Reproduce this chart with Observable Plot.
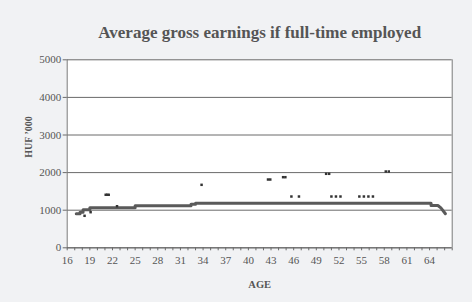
<!DOCTYPE html>
<html><head><meta charset="utf-8">
<script src="https://cdn.jsdelivr.net/npm/d3@7"></script>
<script src="https://cdn.jsdelivr.net/npm/@observablehq/plot@0.6"></script>
<style>
html,body{margin:0;padding:0;background:#f1f2f4;}
#chart{width:472px;height:302px;}
</style></head><body><div id="chart"></div>
<script>
// Main (average) series: age, earnings (HUF '000)
const lineAges   = [17.2, 17.7, 17.7, 18.1, 18.1, 19.0, 19.0, 25.0, 25.0, 32.4, 32.4, 33.0, 33.0, 64.2, 64.2, 65.1, 65.5, 66.1];
const lineValues = [905,  905,  947,  947,  1010, 1010, 1064, 1064, 1117, 1117, 1155, 1155, 1185, 1185, 1125, 1125, 1060, 905];
// Scattered individual observations
const dotAges   = [18.3, 19.1, 21.1, 21.3, 21.5, 22.6, 33.8, 42.6, 42.9, 44.6, 44.9, 45.7, 46.7, 50.3, 50.7, 51.0, 51.6, 52.2, 54.7, 55.3, 55.9, 56.5, 58.2, 58.6];
const dotValues = [851,  947,  1410, 1410, 1410, 1106, 1675, 1816, 1816, 1878, 1878, 1364, 1364, 1968, 1968, 1364, 1364, 1364, 1364, 1364, 1364, 1364, 2029, 2029];
const xTicks = [16,17,18,19,20,21,22,23,24,25,26,27,28,29,30,31,32,33,34,35,36,37,38,39,40,41,42,43,44,45,46,47,48,49,50,51,52,53,54,55,56,57,58,59,60,61,62,63,64,65,66,67];
const xLabels = [16,19,22,25,28,31,34,37,40,43,46,49,52,55,58,61,64];
const yTicks = [0,1000,2000,3000,4000,5000];
const title = "Average gross earnings if full-time employed";
const yLabel = "HUF ’000";
const xLabel = "AGE";

const lineData = lineAges.map((a,i)=>({age:a, v:lineValues[i]}));
const dotData = dotAges.map((a,i)=>({age:a, v:dotValues[i]}));
const serif = "'Liberation Serif','Times New Roman',serif";
const ink = "#555";

const chart = Plot.plot({
  width: 472, height: 302,
  marginLeft: 66.7, marginRight: 20.3, marginTop: 59.3, marginBottom: 54.7,
  style: {background: "transparent", fontFamily: serif, fontSize: "11px", color: ink},
  x: {domain: [16, 67]},
  y: {domain: [0, 5000]},
  marks: [
    Plot.frame({fill: "white", stroke: null}),
    Plot.gridY(yTicks, {stroke: "#6a6a6a", strokeOpacity: 1, strokeWidth: 1}),
    Plot.ruleX([16, 67], {stroke: "#7a7a7a", strokeWidth: 1}),
    Plot.ruleY([0], {stroke: "#6a6a6a", strokeWidth: 1}),
    Plot.axisY({ticks: yTicks, tickSize: 4, tickPadding: 2, label: null, stroke: "#6a6a6a", fill: ink, fontSize: 11,
      tickFormat: d => String(d)}),
    Plot.axisX({ticks: xTicks, tickSize: 3, tickPadding: 5, label: null, stroke: "#6a6a6a", fill: ink, fontSize: 11,
      tickFormat: d => xLabels.includes(d) ? String(d) : ""}),
    Plot.line(lineData, {x: "age", y: "v", stroke: "#5a5a5a", strokeWidth: 3}),
    Plot.dot(dotData, {x: "age", y: "v", symbol: "square", r: 1.4, fill: "#333", stroke: null}),
    Plot.text([title], {frameAnchor: "top", lineAnchor: "middle", dy: -27, fontSize: 17, fontWeight: "bold", fill: ink, fontFamily: serif}),
    Plot.text([xLabel], {frameAnchor: "bottom", lineAnchor: "middle", dy: 37, fontSize: 10.5, fontWeight: "bold", fill: ink, fontFamily: serif}),
    Plot.text([yLabel], {frameAnchor: "left", lineAnchor: "middle", dx: -38.4, dy: 4, rotate: -90, fontSize: 10, fontWeight: "bold", fill: ink, fontFamily: serif})
  ]
});
document.getElementById("chart").appendChild(chart);
</script></body></html>
